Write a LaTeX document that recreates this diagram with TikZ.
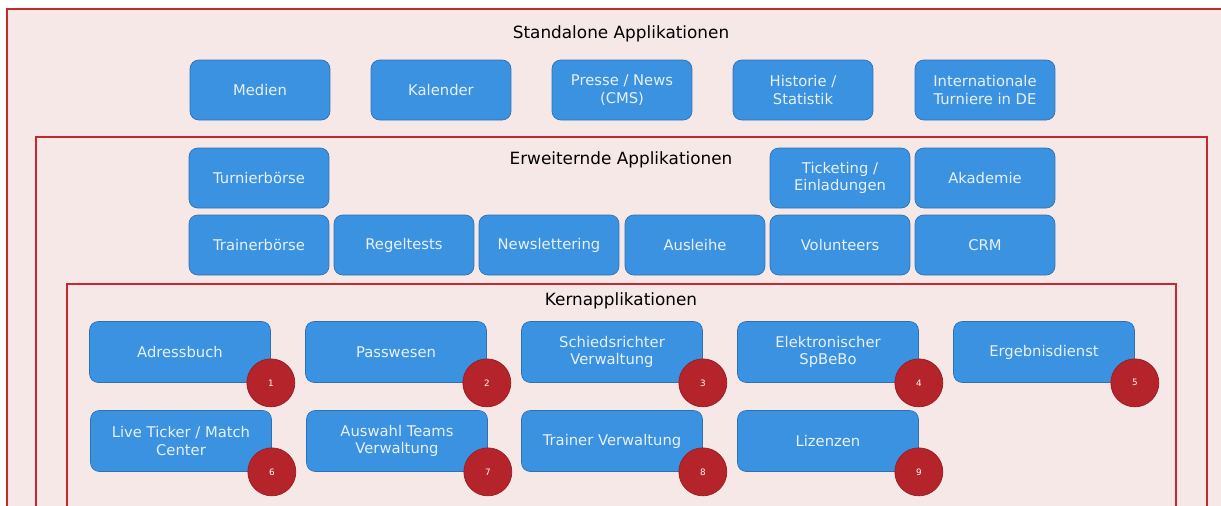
\documentclass[tikz,border=0pt]{standalone}
\usepackage{fontspec}
\setmainfont{DejaVu Sans}
\usepackage{tikz}
\usetikzlibrary{backgrounds}
\definecolor{framered}{HTML}{C4292F}
\definecolor{framefill}{HTML}{F7E8E8}
\definecolor{appblue}{HTML}{3A92E0}
\definecolor{appborder}{HTML}{2D70B5}
\definecolor{apptext}{HTML}{E8F1FB}
\definecolor{markred}{HTML}{B5242A}
\definecolor{markborder}{HTML}{981E23}
\tikzset{
  rahmen/.style={draw=framered, line width=1.1pt, fill=framefill},
  titel/.style={font=\fontsize{9.6}{11}\selectfont, text=black},
  app/.style={draw=appborder, fill=appblue, rounded corners=5pt, text=apptext,
    align=center, font=\fontsize{8.4}{10}\selectfont,
    minimum width=2.8cm, minimum height=1.2cm, inner sep=1pt},
  kernapp/.style={app, minimum width=3.62cm, minimum height=1.22cm},
  nummer/.style={circle, draw=markborder, fill=markred, text=white,
    font=\fontsize{5}{6}\selectfont, minimum size=0.96cm, inner sep=0pt}
}
\begin{document}
\begin{tikzpicture}[x=0.02cm, y=-0.02cm]
\useasboundingbox (0,0) rectangle (1221,505);
\clip (0,0) rectangle (1221,505);
\draw[rahmen] (7,9) rectangle (1240,530);
\draw[rahmen] (36,137) rectangle (1207,530);
\draw[rahmen] (67,284) rectangle (1176,530);

\node[titel] (standalone) at (621,34) {Standalone Applikationen};
\node[titel] (erweiternd) at (621,160) {Erweiternde Applikationen};
\node[titel] (kern) at (621,301) {Kernapplikationen};

\node[app] (medien) at (260,90) {Medien};
\node[app] (kalender) at (441,90) {Kalender};
\node[app] (presse) at (622,90) {Presse / News\\(CMS)};
\node[app] (historie) at (803,90) {Historie /\\Statistik};
\node[app] (international) at (985,90) {Internationale\\Turniere in DE};

\node[app] (turnierboerse) at (259,178) {Turnierbörse};
\node[app] (ticketing) at (840,178) {Ticketing /\\Einladungen};
\node[app] (akademie) at (985,178) {Akademie};
\node[app] (trainerboerse) at (259,245) {Trainerbörse};
\node[app] (regeltests) at (404,245) {Regeltests};
\node[app] (newsletter) at (549,245) {Newslettering};
\node[app] (ausleihe) at (695,245) {Ausleihe};
\node[app] (volunteers) at (840,245) {Volunteers};
\node[app] (crm) at (985,245) {CRM};

\node[kernapp] (adressbuch) at (180,352) {Adressbuch};
\node[kernapp] (passwesen) at (396,352) {Passwesen};
\node[kernapp] (schiri) at (612,352) {Schiedsrichter\\Verwaltung};
\node[kernapp] (spbebo) at (828,352) {Elektronischer\\SpBeBo};
\node[kernapp] (ergebnis) at (1044,352) {Ergebnisdienst};
\node[kernapp] (ticker) at (181,441) {Live Ticker / Match\\Center};
\node[kernapp] (auswahl) at (397,441) {Auswahl Teams\\Verwaltung};
\node[kernapp] (trainer) at (612,441) {Trainer Verwaltung};
\node[kernapp] (lizenzen) at (828,441) {Lizenzen};

\foreach \app/\nr in {adressbuch/1, passwesen/2, schiri/3, spbebo/4, ergebnis/5,
  ticker/6, auswahl/7, trainer/8, lizenzen/9}
  \node[nummer] (nr\nr) at (\app.south east) {\nr};
\end{tikzpicture}
\end{document}
